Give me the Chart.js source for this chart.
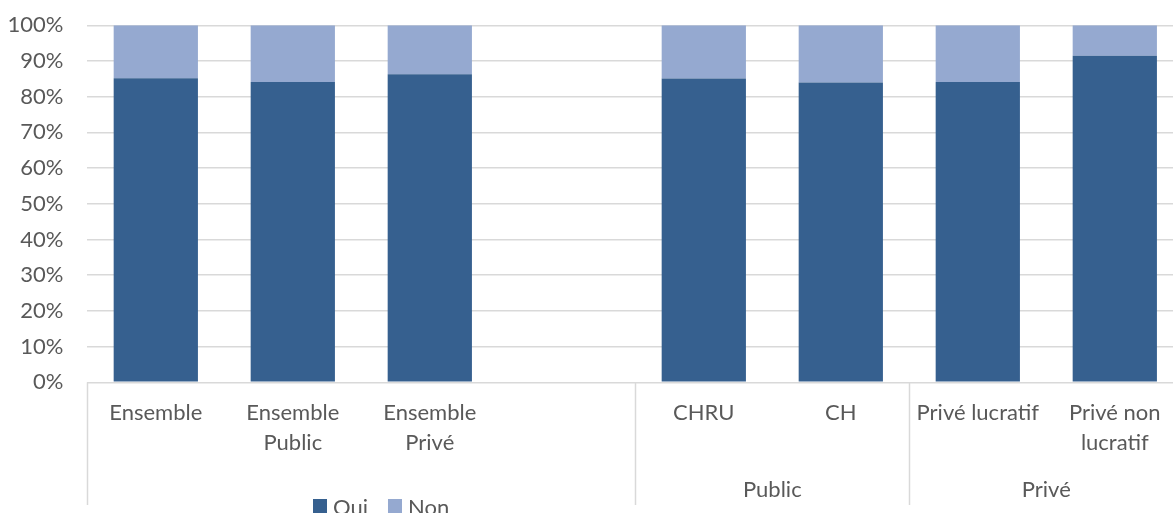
<!DOCTYPE html>
<html>
<head>
<meta charset="utf-8">
<script src="https://cdn.jsdelivr.net/npm/chart.js@4/dist/chart.umd.min.js"></script>
<style>
  html, body { margin: 0; padding: 0; background: #fff; overflow: hidden; }
  #wrap { width: 1184px; height: 513px; }
</style>
</head>
<body>
<div id="wrap"><canvas id="bar-plot" width="1184" height="513"></canvas></div>
<script>
var categories = ["Ensemble", ["Ensemble", "Public"], ["Ensemble", "Privé"], "",
                  "CHRU", "CH", "Privé lucratif", ["Privé non", "lucratif"]];
var ouiValues = [85.2, 84.1, 86.3, null, 85.1, 84.0, 84.1, 91.5];
var nonValues = [14.8, 15.9, 13.7, null, 14.9, 16.0, 15.9, 8.5];
// groups: [first category index, last category index, label]
var groups = [[4, 5, "Public"], [6, 7, "Privé"]];
var separators = [0, 4, 6];   // category index where a vertical line starts

var textColor = "#595959";
var fontFamily = "Lato, 'Noto Sans', sans-serif";

// group labels, separators under the axis and the legend
var extras = {
  id: "extras",
  afterDraw: function (chart) {
    var ctx = chart.ctx;
    var x = chart.scales.x;
    var area = chart.chartArea;
    var step = x.getPixelForTick(1) - x.getPixelForTick(0);
    ctx.save();
    ctx.strokeStyle = "#D9D9D9";
    ctx.lineWidth = 1.5;
    separators.forEach(function (i) {
      var px = Math.round(x.getPixelForTick(i) - step / 2) + 0.5;
      ctx.beginPath();
      ctx.moveTo(px, area.bottom);
      ctx.lineTo(px, 505);
      ctx.stroke();
    });
    ctx.fillStyle = textColor;
    ctx.font = "22px " + fontFamily;
    ctx.textAlign = "center";
    ctx.textBaseline = "middle";
    groups.forEach(function (g) {
      var cx = (x.getPixelForTick(g[0]) + x.getPixelForTick(g[1])) / 2;
      ctx.fillText(g[2], cx, 490);
    });
    // legend
    var lx = 313;
    ctx.textAlign = "left";
    chart.data.datasets.forEach(function (ds) {
      ctx.fillStyle = ds.backgroundColor;
      ctx.fillRect(lx, 499, 14, 14);
      ctx.fillStyle = textColor;
      ctx.fillText(ds.label, lx + 20, 508);
      lx += 20 + ctx.measureText(ds.label).width + 20;
    });
    ctx.restore();
  }
};

new Chart("bar-plot", {
  type: "bar",
  data: {
    labels: categories,
    datasets: [{
      label: "Oui",
      backgroundColor: "#36608F",
      data: ouiValues
    }, {
      label: "Non",
      backgroundColor: "#95A9D0",
      data: nonValues
    }]
  },
  plugins: [extras],
  options: {
    responsive: false,
    animation: false,
    layout: { padding: { top: 25.3, right: 0.7, left: 0, bottom: 0 } },
    datasets: {
      bar: { categoryPercentage: 1, barPercentage: 0.615 }
    },
    plugins: {
      legend: { display: false },
      tooltip: { enabled: false }
    },
    scales: {
      x: {
        stacked: true,
        grid: { display: false, drawTicks: false },
        border: { display: false },
        ticks: {
          color: textColor,
          padding: 16,
          maxRotation: 0,
          autoSkip: false,
          font: { family: fontFamily, size: 22, lineHeight: 1.36 }
        },
        afterFit: function (s) { s.height = 130.7; }
      },
      y: {
        stacked: true,
        min: 0,
        max: 100,
        border: { display: false },
        // invisible tick marks give the gap between labels and plot
        grid: { color: "#D9D9D9", lineWidth: 1.5, drawTicks: true, tickLength: 24, tickColor: "rgba(0,0,0,0)" },
        ticks: {
          stepSize: 10,
          color: textColor,
          padding: 0,
          font: { family: fontFamily, size: 22 },
          callback: function (v) { return v + "%"; }
        },
        afterFit: function (s) { s.width = 87.3; }
      }
    }
  }
});
</script>
</body>
</html>
